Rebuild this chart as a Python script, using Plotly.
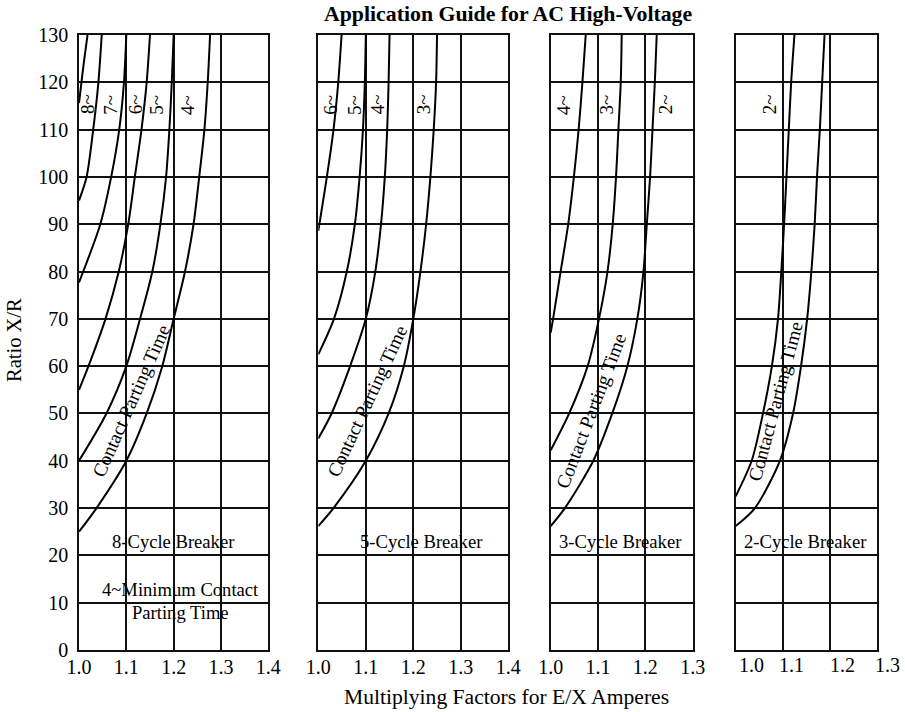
import plotly.graph_objects as go

# ---------------- data ----------------
Y_TICKS = [0, 10, 20, 30, 40, 50, 60, 70, 80, 90, 100, 110, 120, 130]

# 8-cycle breaker panel
P1_A_X = [1.0, 1.004, 1.010, 1.018]
P1_A_Y = [115.6, 119, 124, 130]
P1_B_X = [1.0, 1.016, 1.030, 1.041, 1.048]
P1_B_Y = [95, 100, 110, 120, 130]
P1_C_X = [1.0, 1.045, 1.068, 1.085, 1.095, 1.1]
P1_C_Y = [77.7, 90, 100, 110, 120, 130]
P1_D_X = [1.0, 1.020, 1.056, 1.084, 1.104, 1.118, 1.132, 1.143, 1.15]
P1_D_Y = [55, 60, 70, 80, 90, 100, 110, 120, 130]
P1_E_X = [1.0, 1.058, 1.1, 1.129, 1.155, 1.172, 1.184, 1.191, 1.196, 1.2]
P1_E_Y = [40, 50, 60, 70, 80, 90, 100, 110, 120, 130]
P1_F_X = [1.0, 1.037, 1.1, 1.143, 1.176, 1.2, 1.224, 1.242, 1.254, 1.265, 1.272, 1.277]
P1_F_Y = [25, 30, 40, 50, 60, 70, 80, 90, 100, 110, 120, 130]

# 5-cycle breaker panel
P2_A_X = [1.0, 1.018, 1.032, 1.042, 1.049]
P2_A_Y = [88.6, 100, 110, 120, 130]
P2_B_X = [1.0, 1.033, 1.060, 1.077, 1.087, 1.094, 1.098, 1.1]
P2_B_Y = [62.5, 70, 80, 90, 100, 110, 120, 130]
P2_C_X = [1.0, 1.028, 1.067, 1.1, 1.12, 1.132, 1.14, 1.145, 1.148, 1.15]
P2_C_Y = [44.7, 50, 60, 70, 80, 90, 100, 110, 120, 130]
P2_D_X = [1.0, 1.032, 1.1, 1.148, 1.18, 1.2, 1.215, 1.227, 1.236, 1.243, 1.248, 1.25]
P2_D_Y = [26.2, 30, 40, 50, 60, 70, 80, 90, 100, 110, 120, 130]

# 3-cycle breaker panel
P3_A_X = [1.0, 1.005, 1.021, 1.037, 1.049, 1.059, 1.067, 1.074]
P3_A_Y = [67.1, 70, 80, 90, 100, 110, 120, 130]
P3_B_X = [1.0, 1.039, 1.078, 1.102, 1.12, 1.131, 1.138, 1.143, 1.148, 1.15]
P3_B_Y = [42.2, 50, 60, 70, 80, 90, 100, 110, 120, 130]
P3_C_X = [1.0, 1.03, 1.09, 1.13, 1.162, 1.183, 1.196, 1.203, 1.21, 1.215, 1.22, 1.224]
P3_C_Y = [26.2, 30, 40, 50, 60, 70, 80, 90, 100, 110, 120, 130]

# 2-cycle breaker panel
P4_A_X = [0.966, 1.0, 1.024, 1.043, 1.056, 1.063, 1.069, 1.074, 1.079, 1.084, 1.091]
P4_A_Y = [32.5, 40, 50, 60, 70, 80, 90, 100, 110, 120, 130]
P4_B_X = [0.966, 1.007, 1.060, 1.088, 1.105, 1.118, 1.127, 1.134, 1.139, 1.145, 1.150, 1.155]
P4_B_Y = [26.2, 30, 40, 50, 60, 70, 80, 90, 100, 110, 120, 130]
P4_TICK_LABELS = ["1.0", "1.1", "1.2", "1.3"]
P4_TICK_VALUES = [1.0, 1.085, 1.193, 1.288]

PANEL1_CURVE_LABELS = ["8~", "7~", "6~", "5~", "4~"]
PANEL2_CURVE_LABELS = ["6~", "5~", "4~", "3~"]
PANEL3_CURVE_LABELS = ["4~", "3~", "2~"]
PANEL4_CURVE_LABELS = ["2~"]

TITLE = "Application Guide for AC High-Voltage"
X_TITLE = "Multiplying Factors for E/X Amperes"
Y_TITLE = "Ratio X/R"

# ---------------- figure ----------------
W, H = 905, 712
FONT = "Liberation Serif"
FS_TICK = 20
FS_ANN = 18.6
BLACK = "#111111"

def px_x(p):
    return p / W

def px_y(p):
    return 1 - p / H

ydom = [px_y(650), px_y(35)]
xdoms = [
    [px_x(79), px_x(268.3)],
    [px_x(318.3), px_x(508.3)],
    [px_x(550.7), px_x(692.7)],
    [px_x(735.7), px_x(876.7)],
]
x_ranges = [[1.0, 1.4], [1.0, 1.4], [1.0, 1.3], [0.966, 1.266]]

fig = go.Figure()

curves = [
    (1, [(P1_A_X, P1_A_Y), (P1_B_X, P1_B_Y), (P1_C_X, P1_C_Y), (P1_D_X, P1_D_Y), (P1_E_X, P1_E_Y), (P1_F_X, P1_F_Y)]),
    (2, [(P2_A_X, P2_A_Y), (P2_B_X, P2_B_Y), (P2_C_X, P2_C_Y), (P2_D_X, P2_D_Y)]),
    (3, [(P3_A_X, P3_A_Y), (P3_B_X, P3_B_Y), (P3_C_X, P3_C_Y)]),
    (4, [(P4_A_X, P4_A_Y), (P4_B_X, P4_B_Y)]),
]
for k, lst in curves:
    ax = "" if k == 1 else str(k)
    for xs, ys in lst:
        fig.add_trace(go.Scatter(
            x=xs, y=ys, mode="lines",
            line=dict(color="black", width=2, shape="spline", smoothing=0.8),
            xaxis="x" + ax, yaxis="y" + ax, showlegend=False, hoverinfo="skip",
        ))

tickfont = dict(family=FONT, size=FS_TICK, color="black")
common_axis = dict(
    showgrid=True, gridcolor=BLACK, gridwidth=1.5,
    showline=True, linecolor=BLACK, linewidth=1.6, mirror=True,
    zeroline=False, ticks="", tickfont=tickfont,
)

layout = dict(
    width=W, height=H, template="none",
    margin=dict(l=0, r=0, t=0, b=0),
    paper_bgcolor="white", plot_bgcolor="white",
    showlegend=False,
)

for i in range(4):
    k = i + 1
    xa = dict(common_axis, domain=xdoms[i], range=x_ranges[i],
              anchor="y" if k == 1 else "y" + str(k))
    if k < 4:
        xa.update(tick0=1.0, dtick=0.1, tickformat=".1f", ticklabelstandoff=-2)
    else:
        xa.update(tick0=0.966, dtick=0.1, showticklabels=False)
    ya = dict(common_axis, domain=ydom, range=[0, 130],
              tickvals=Y_TICKS, ticktext=[str(v) for v in Y_TICKS],
              anchor="x" if k == 1 else "x" + str(k),
              showticklabels=(k == 1), ticklabelstandoff=5)
    layout["xaxis" if k == 1 else "xaxis" + str(k)] = xa
    layout["yaxis" if k == 1 else "yaxis" + str(k)] = ya

fig.update_layout(**layout)

ann = []
def add(text, x, y, xref, yref, angle=0, bold=False, size=FS_ANN):
    ann.append(dict(text=("<b>%s</b>" % text) if bold else text, x=x, y=y, xref=xref, yref=yref,
                    textangle=angle, showarrow=False, xanchor="center", yanchor="middle",
                    font=dict(family=FONT, size=size, color="black")))

# titles
add(TITLE, px_x(508), px_y(14), "paper", "paper", bold=True, size=21.8)
add(X_TITLE, px_x(506), px_y(697), "paper", "paper", size=21.6)
add(Y_TITLE, px_x(14), px_y(340), "paper", "paper", angle=-90, size=20.5)

# panel 4 tick labels (placed on the panel-4 axis domain)
r0, r1 = x_ranges[3]
for t, v in zip(P4_TICK_LABELS, P4_TICK_VALUES):
    add(t, (v - r0) / (r1 - r0), px_y(665), "x4 domain", "paper", size=FS_TICK)

# curve labels
lab_y = 115.3
for t, x in zip(PANEL1_CURVE_LABELS, [1.018, 1.066, 1.12, 1.163, 1.229]):
    add(t, x, lab_y, "x", "y", angle=-90, size=19)
for t, x in zip(PANEL2_CURVE_LABELS, [1.025, 1.076, 1.125, 1.222]):
    add(t, x, lab_y, "x2", "y2", angle=-90, size=19)
for t, x in zip(PANEL3_CURVE_LABELS, [1.027, 1.119, 1.243]):
    add(t, x, lab_y, "x3", "y3", angle=-90, size=19)
for t, x in zip(PANEL4_CURVE_LABELS, [1.0385]):
    add(t, x, lab_y, "x4", "y4", angle=-90, size=19)

# contact parting time labels
add("Contact Parting Time", 1.109, 52.6, "x", "y", angle=-66, size=19.2)
add("Contact Parting Time", 1.102, 52.6, "x2", "y2", angle=-65, size=19.2)
add("Contact Parting Time", 1.086, 50.6, "x3", "y3", angle=-69, size=19.2)
add("Contact Parting Time", 1.050, 52.6, "x4", "y4", angle=-75, size=19.2)

# breaker labels
add("8-Cycle Breaker", 1.2, 23, "x", "y")
add("4~Minimum Contact", 1.214, 12.7, "x", "y")
add("Parting Time", 1.215, 7.9, "x", "y")
add("5-Cycle Breaker", 1.218, 23, "x2", "y2")
add("3-Cycle Breaker", 1.147, 23, "x3", "y3")
add("2-Cycle Breaker", 1.115, 23, "x4", "y4")

fig.update_layout(annotations=ann)
fig.write_html("out.html", config={"displayModeBar": False},
               post_script="document.body.style.margin='0px';")
